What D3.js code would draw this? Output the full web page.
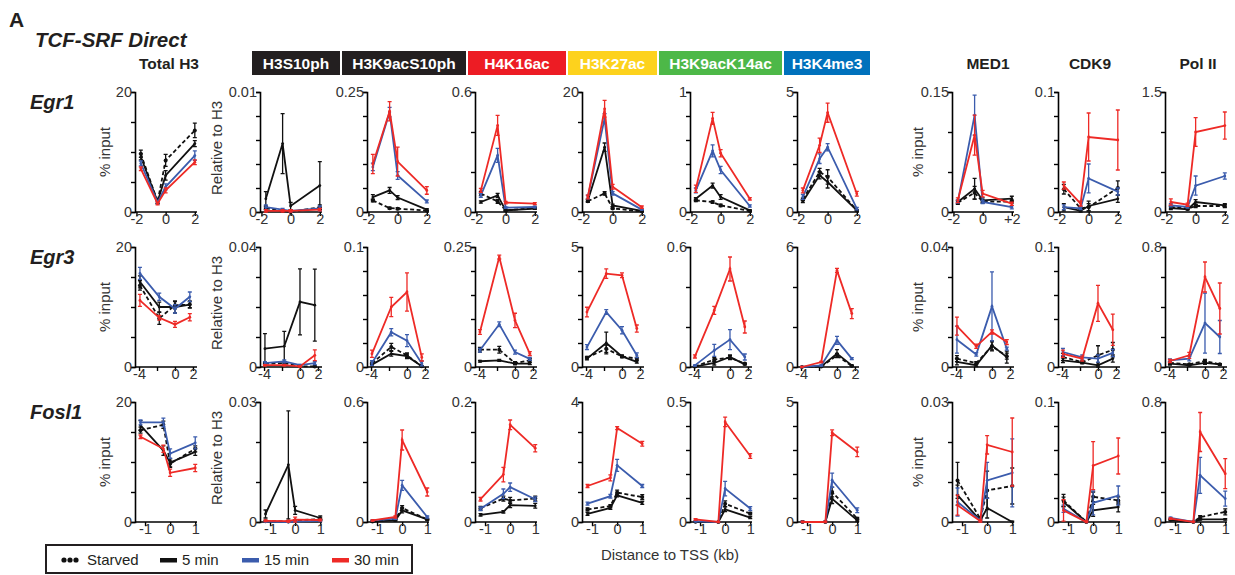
<!DOCTYPE html>
<html>
<head>
<meta charset="utf-8">
<script src="https://cdn.jsdelivr.net/npm/d3@7"></script>
<style>
body{margin:0;background:#fff;}
text{font-family:Arial,"Liberation Sans",sans-serif;}
</style>
</head>
<body>
<script>
// column headers and row labels
var genes = ['Egr1', 'Egr3', 'Fosl1'];
var headerBoxes = ['H3S10ph', 'H3K9acS10ph', 'H4K16ac', 'H3K27ac', 'H3K9acK14ac', 'H3K4me3'];
var headerBoxColors = ['#231f20', '#231f20', '#ed1c24', '#fdd21d', '#4db848', '#0071bc'];
var plainHeaders = ['Total H3', 'MED1', 'CDK9', 'Pol II'];
var seriesNames = ['Starved', '5 min', '15 min', '30 min'];
var seriesColors = ['#111', '#111', '#3b5cad', '#ee2a26'];

// x positions of the amplicons (kb from TSS) per gene, plus axis ticks
var xPos = [[-1.7, -0.55, 0, 2], [-3.9, -1.75, 0, 1.65], [-1.18, -0.27, 0, 1]];
var xDomains = [[-2.1, 2.15], [-4.45, 2.45], [-1.4, 1.07]];
var xTicks = [[-2, 0, 2], [-4, -2, 0, 2], [-1, 0, 1]];
var xTickLabels = [['-2', '0', '2'], ['-4', '', '0', '2'], ['-1', '0', '1']];

// y axis max per panel and number of tick intervals
var yMax = [
	[20, 0.01, 0.25, 0.6, 20, 1, 5, 0.15, 0.1, 1.5],
	[20, 0.04, 0.1, 0.25, 5, 0.6, 6, 0.04, 0.1, 0.8],
	[20, 0.03, 0.6, 0.2, 4, 0.5, 5, 0.03, 0.1, 0.8]
];
var yDiv = [
	[4, 5, 5, 3, 4, 5, 5, 3, 5, 3],
	[4, 4, 5, 5, 5, 3, 3, 4, 5, 4],
	[4, 3, 3, 4, 4, 5, 5, 3, 5, 4]
];

// ---- Egr1 ----
var egr1Starved = [[9.7,1.7,8.6,13.6],[0.0003,0.0001,0,0.0004],[0.024,0.008,0.007,0.003],[0.092,0.053,0.008,0.02],[1.8,3.1,0.6,0.1],[0.097,0.083,0.055,0.008],[0.53,1.67,1.46,0.07],[0.0117,0.024,0.013,0.013],[0.019,0.003,0.004,0.02],[0.063,0.042,0.075,0.075]];
var egr1Min5 = [[9.2,1.7,6.1,11.4],[0.0011,0.0057,0.0005,0.0022],[0.031,0.045,0.03,0.005],[0.05,0.083,0.008,0.017],[1.9,10.8,1.1,0.2],[0.11,0.22,0.125,0.014],[0.44,1.53,1.25,0.07],[0.0125,0.029,0.0146,0.0167],[0.004,0.001,0.005,0.011],[0.05,0.033,0.125,0.083]];
var egr1Min15 = [[8.1,1.6,4.2,9.4],[0.0004,0.0002,0.0001,0.0003],[0.094,0.208,0.076,0.022],[0.083,0.283,0.022,0.025],[2.5,15.6,3.1,0.4],[0.18,0.51,0.35,0.05],[0.63,2.22,2.7,0.14],[0.013,0.121,0.0125,0.006],[0.004,0.003,0.028,0.017],[0.083,0.063,0.33,0.45]];
var egr1Min30 = [[7.2,1.4,3.6,8.3],[0.0001,0.0001,0.0001,0.0002],[0.1,0.21,0.105,0.045],[0.108,0.433,0.047,0.042],[2.5,17.2,4.2,0.8],[0.194,0.78,0.49,0.11],[0.9,2.78,4.14,0.76],[0.0146,0.096,0.023,0.0104],[0.022,0.007,0.0625,0.06],[0.125,0.092,1.0,1.08]];
var egr1ErrStarved = [[0.6,0.3,1.0,1.2],[0.0001,0.0001,0.0001,0.0002],[0.003,0.002,0.002,0.001],[0.01,0.01,0.003,0.004],[0.2,0.3,0.1,0.05],[0.01,0.01,0.01,0.003],[0.05,0.15,0.3,0.03],[0.002,0.008,0.002,0.002],[0.004,0.001,0.003,0.006],[0.02,0.01,0.02,0.02]];
var egr1ErrMin5 = [[0.5,0.3,0.8,0.5],[0.0006,0.0025,0.0003,0.002],[0.005,0.006,0.004,0.002],[0.006,0.01,0.003,0.004],[0.2,0.7,0.2,0.1],[0.01,0.02,0.02,0.005],[0.05,0.15,0.25,0.03],[0.002,0.013,0.003,0.003],[0.003,0.001,0.004,0.003],[0.02,0.01,0.03,0.02]];
var egr1ErrMin15 = [[0.4,0.2,0.5,0.8],[0.0002,0.0001,0.0001,0.0002],[0.008,0.01,0.008,0.003],[0.01,0.035,0.004,0.004],[0.3,0.8,0.3,0.1],[0.02,0.05,0.03,0.01],[0.1,0.2,0.15,0.05],[0.002,0.025,0.002,0.002],[0.002,0.001,0.012,0.003],[0.02,0.015,0.12,0.04]];
var egr1ErrMin30 = [[0.3,0.2,0.4,0.4],[0.0001,0.0001,0.0001,0.0001],[0.02,0.02,0.03,0.008],[0.01,0.05,0.006,0.005],[0.3,1.4,0.4,0.2],[0.03,0.05,0.03,0.01],[0.1,0.3,0.4,0.1],[0.003,0.025,0.004,0.002],[0.003,0.002,0.02,0.025],[0.04,0.02,0.18,0.17]];

// ---- Egr3 ----
var egr3Starved = [[13.6,8.1,10.3,10.4],[0.0011,0.0013,0.0002,0.0002],[0.003,0.0167,0.0097,0.0006],[0.036,0.036,0.008,0.014],[0.39,0.76,0.44,0.35],[0.003,0.037,0.047,0.017],[0,0.02,0.58,0.05],[0.0028,0.0013,0.0069,0.0036],[0.0083,0.004,0.0097,0.0144],[0.027,0.018,0.04,0.018]];
var egr3Min5 = [[14.2,10,10,10.4],[0.0061,0.0069,0.0217,0.0206],[0.002,0.011,0.009,0.0006],[0.012,0.014,0.007,0.007],[0.35,1.0,0.44,0.21],[0.002,0.02,0.05,0.013],[0,0.03,0.67,0.08],[0.0017,0.0006,0.0072,0.0033],[0.0056,0.0036,0.0014,0.007],[0.022,0.011,0.027,0.018]];
var egr3Min15 = [[15.6,11.7,9.7,11.7],[0.0013,0.0019,0.0006,0.0013],[0.0033,0.029,0.022,0.003],[0.035,0.089,0.031,0.017],[0.83,2.29,1.53,0.49],[0.008,0.083,0.137,0.05],[0,0.08,1.33,0.42],[0.0091,0.0042,0.0202,0.0061],[0.0125,0.008,0.007,0.0117],[0.044,0.056,0.293,0.2]];
var egr3Min30 = [[11.1,8.2,7.1,8.3],[0.0006,0.0006,0.0002,0.0039],[0.011,0.05,0.0625,0.008],[0.073,0.229,0.097,0.028],[2.29,3.89,3.82,1.6],[0.053,0.283,0.49,0.2],[0,0.25,4.83,2.67],[0.0136,0.0069,0.0117,0.0083],[0.011,0.007,0.053,0.031],[0.04,0.078,0.6,0.39]];
var egr3ErrStarved = [[0.8,1.0,0.6,0.5],[0.0004,0.0004,0.0002,0.0002],[0.001,0.003,0.002,0.0005],[0.005,0.007,0.003,0.004],[0.05,0.15,0.05,0.05],[0.002,0.01,0.01,0.003],[0.01,0.01,0.1,0.02],[0.001,0.0005,0.0015,0.001],[0.003,0.001,0.008,0.006],[0.01,0.005,0.01,0.005]];
var egr3ErrMin5 = [[1.0,0.8,1.0,0.6],[0.005,0.005,0.011,0.012],[0.001,0.002,0.002,0.0005],[0.002,0.002,0.002,0.002],[0.05,0.45,0.05,0.05],[0.002,0.01,0.01,0.003],[0.01,0.01,0.2,0.02],[0.001,0.0005,0.0015,0.002],[0.002,0.001,0.002,0.003],[0.01,0.005,0.01,0.005]];
var egr3ErrMin15 = [[1.0,0.6,0.7,0.8],[0.0005,0.0005,0.0003,0.0005],[0.002,0.003,0.005,0.002],[0.004,0.005,0.004,0.003],[0.1,0.1,0.15,0.1],[0.003,0.03,0.05,0.015],[0.02,0.03,0.2,0.05],[0.0045,0.0006,0.0115,0.0005],[0.003,0.002,0.003,0.003],[0.01,0.015,0.2,0.11]];
var egr3ErrMin30 = [[1.0,0.4,0.5,0.6],[0.0002,0.0002,0.0002,0.0018],[0.003,0.008,0.016,0.003],[0.005,0.004,0.015,0.004],[0.2,0.2,0.1,0.15],[0.008,0.02,0.06,0.03],[0.02,0.03,0.1,0.25],[0.003,0.0007,0.0007,0.0008],[0.003,0.002,0.015,0.013],[0.01,0.02,0.1,0.17]];

// ---- Fosl1 ----
var fosl1Starved = [[15.3,16.2,9.7,12.2],[0.0002,0.0001,0.0004,0.0007],[0.003,0.013,0.07,0.013],[0.023,0.039,0.036,0.039],[0.42,0.53,0.98,0.83],[0.001,0,0.076,0.035],[0,0,1.25,0.14],[0.0104,0.0008,0.0079,0.009],[0.018,0,0.021,0.018],[0.018,0,0.033,0.067]];
var fosl1Min5 = [[16.1,11.9,9.9,11.7],[0.002,0.0143,0.0029,0.001],[0.002,0.008,0.058,0.013],[0.012,0.017,0.028,0.027],[0.27,0.47,0.89,0.64],[0.001,0,0.053,0.018],[0,0,0.97,0.07],[0.0067,0.0004,0.0035,0],[0.0167,0,0.0097,0.0125],[0.011,0,0.018,0.018]];
var fosl1Min15 = [[16.6,16.6,11.4,13.2],[0.0001,0,0.0001,0.0003],[0.008,0.017,0.183,0.025],[0.022,0.047,0.058,0.038],[0.61,0.86,1.89,1.2],[0.003,0,0.139,0.056],[0,0,1.74,0.49],[0.005,0.0004,0.0104,0.0123],[0.011,0,0.016,0.022],[0.027,0,0.311,0.156]];
var fosl1Min30 = [[14.2,12.2,8.2,9.0],[0.0003,0.0002,0.0006,0.0005],[0.008,0.025,0.41,0.15],[0.038,0.079,0.162,0.123],[1.2,1.47,3.13,2.61],[0.011,0,0.417,0.275],[0,0,3.72,2.92],[0.0042,0.0002,0.0193,0.0175],[0.0097,0,0.047,0.055],[0.022,0,0.6,0.322]];
var fosl1ErrStarved = [[0.5,0.6,0.6,0.5],[0.0002,0.0002,0.0002,0.0003],[0.002,0.003,0.012,0.003],[0.003,0.004,0.005,0.004],[0.05,0.05,0.08,0.08],[0.001,0.001,0.012,0.005],[0.02,0.02,0.2,0.05],[0.0045,0.0005,0.0048,0.0045],[0.005,0.001,0.004,0.003],[0.003,0.002,0.01,0.02]];
var fosl1ErrMin5 = [[0.8,0.8,0.7,0.6],[0.001,0.0135,0.001,0.0005],[0.002,0.003,0.012,0.003],[0.002,0.002,0.004,0.004],[0.05,0.05,0.05,0.05],[0.001,0.001,0.01,0.004],[0.02,0.02,0.2,0.05],[0.0025,0.0003,0.0025,0.0002],[0.004,0.001,0.005,0.004],[0.003,0.002,0.005,0.005]];
var fosl1ErrMin15 = [[0.4,0.7,0.8,1.0],[0.0001,0.0001,0.0001,0.0002],[0.003,0.004,0.025,0.005],[0.003,0.008,0.007,0.004],[0.05,0.06,0.2,0.05],[0.002,0.001,0.03,0.008],[0.02,0.02,0.3,0.1],[0.0035,0.0003,0.0045,0.0085],[0.003,0.001,0.01,0.008],[0.005,0.002,0.12,0.05]];
var fosl1ErrMin30 = [[0.3,0.6,0.6,0.6],[0.0002,0.0002,0.0006,0.0002],[0.003,0.006,0.05,0.02],[0.003,0.012,0.008,0.006],[0.05,0.1,0.05,0.08],[0.003,0.001,0.02,0.01],[0.02,0.02,0.12,0.2],[0.0025,0.0003,0.0023,0.0085],[0.009,0.001,0.02,0.015],[0.005,0.002,0.13,0.1]];

var rowValues = [
	[egr1Starved, egr1Min5, egr1Min15, egr1Min30],
	[egr3Starved, egr3Min5, egr3Min15, egr3Min30],
	[fosl1Starved, fosl1Min5, fosl1Min15, fosl1Min30]
];
var rowErrors = [
	[egr1ErrStarved, egr1ErrMin5, egr1ErrMin15, egr1ErrMin30],
	[egr3ErrStarved, egr3ErrMin5, egr3ErrMin15, egr3ErrMin30],
	[fosl1ErrStarved, fosl1ErrMin5, fosl1ErrMin15, fosl1ErrMin30]
];

// layout
var W = 1235, H = 575;
var panelLeft = [135, 260, 367, 475, 582, 690, 797, 952, 1058, 1165];
var rowTop = [92, 247, 402];
var plotW = 62, plotH = 120;
var tickCol = '#333';

var svg = d3.select('body').append('svg')
	.attr('width', W)
	.attr('height', H);

svg.append('text').attr('x', 9).attr('y', 27)
	.style('font-size', '21px').style('font-weight', 'bold').attr('fill', '#231f20').text('A');
svg.append('text').attr('x', 35).attr('y', 47)
	.style('font-size', '20.5px').style('font-weight', 'bold').style('font-style', 'italic')
	.attr('fill', '#231f20')
	.text('TCF-SRF Direct');

// header boxes
var boxX = [252, 342, 468, 568, 659, 784];
var boxR = [340, 466, 566, 657, 782, 870];
for(let i = 0; i < headerBoxes.length; i++){
	svg.append('rect')
		.attr('x', boxX[i]).attr('y', 51)
		.attr('width', boxR[i] - boxX[i]).attr('height', 24)
		.attr('fill', headerBoxColors[i]);
	svg.append('text')
		.attr('x', (boxX[i] + boxR[i]) / 2).attr('y', 68.5)
		.attr('text-anchor', 'middle')
		.attr('fill', '#fff')
		.style('font-size', '15.5px').style('font-weight', 'bold')
		.text(headerBoxes[i]);
}
var plainX = [169, 988, 1090, 1198];
for(let i = 0; i < plainHeaders.length; i++){
	svg.append('text')
		.attr('x', plainX[i]).attr('y', 69)
		.attr('text-anchor', 'middle')
		.attr('fill', '#231f20')
		.style('font-size', '15.5px').style('font-weight', 'bold')
		.text(plainHeaders[i]);
}

// gene labels
for(let r = 0; r < genes.length; r++){
	svg.append('text')
		.attr('x', 30).attr('y', rowTop[r] + 17)
		.style('font-size', '20px').style('font-weight', 'bold').style('font-style', 'italic')
		.attr('fill', '#231f20')
		.text(genes[r]);
}

function yLabel(x, yc, label){
	svg.append('text')
		.attr('transform', 'translate(' + x + ',' + yc + ') rotate(-90)')
		.attr('text-anchor', 'middle')
		.attr('dy', '0.35em')
		.attr('fill', tickCol)
		.style('font-size', '15px')
		.text(label);
}

function drawPanel(r, c){
	var x0 = panelLeft[c];
	var y0 = rowTop[r];
	var g = svg.append('g').attr('transform', 'translate(' + x0 + ',' + y0 + ')');

	var x = d3.scaleLinear().domain(xDomains[r]).range([0, plotW]);
	var y = d3.scaleLinear().domain([0, yMax[r][c]]).range([plotH, 0]);

	// y axis
	var yTickVals = d3.range(yDiv[r][c] + 1).map(function(i){ return yMax[r][c] * i / yDiv[r][c]; });
	var yAxis = d3.axisLeft(y).tickValues(yTickVals).tickSize(4)
		.tickFormat(function(d, i){
			if(i == 0) return '0';
			if(i == yDiv[r][c]) return String(yMax[r][c]);
			return '';
		});
	var ya = g.append('g').call(yAxis);
	ya.select('.domain').attr('stroke', '#000').attr('stroke-width', 1.6);
	ya.selectAll('.tick line').attr('stroke', '#000').attr('stroke-width', 1.4);
	ya.selectAll('.tick text').attr('fill', tickCol).style('font-size', '14.5px')
		.attr('font-family', 'Arial, "Liberation Sans", sans-serif').attr('x', -3);

	// x axis
	var labs = xTickLabels[r].slice();
	if(r == 0 && c == 7) labs[2] = '+2';
	var xAxis = d3.axisBottom(x).tickValues(xTicks[r]).tickSize(4)
		.tickFormat(function(d, i){ return labs[i]; });
	var xa = g.append('g').attr('transform', 'translate(0,' + plotH + ')').call(xAxis);
	xa.select('.domain').attr('stroke', '#000').attr('stroke-width', 1.6)
		.attr('d', 'M0,0H' + plotW);
	xa.selectAll('.tick line').attr('stroke', '#000').attr('stroke-width', 1.4);
	xa.selectAll('.tick text').attr('fill', tickCol).style('font-size', '14.5px')
		.attr('font-family', 'Arial, "Liberation Sans", sans-serif').attr('y', 1.5).attr('dy', '0.71em');

	var line = d3.line()
		.x(function(d){ return x(d.x); })
		.y(function(d){ return y(d.v); });

	for(let s = 0; s < 4; s++){
		var vals = rowValues[r][s][c];
		var errs = rowErrors[r][s][c];
		var pts = vals.map(function(v, i){ return {x: xPos[r][i], v: v, e: errs[i]}; });
		var col = seriesColors[s];
		var sg = g.append('g');

		sg.append('path')
			.datum(pts)
			.attr('d', line)
			.attr('fill', 'none')
			.attr('stroke', col)
			.attr('stroke-width', 1.8)
			.attr('stroke-dasharray', s == 0 ? '4,2.5' : null);

		// error bars
		sg.selectAll('.err').data(pts).enter().append('path')
			.attr('d', function(d){
				var xx = x(d.x), lo = y(Math.max(0, d.v - d.e)), hi = y(d.v + d.e);
				return 'M' + xx + ',' + lo + 'V' + hi +
					'M' + (xx - 2) + ',' + hi + 'H' + (xx + 2) +
					'M' + (xx - 2) + ',' + lo + 'H' + (xx + 2);
			})
			.attr('fill', 'none')
			.attr('stroke', col)
			.attr('stroke-width', 1.3);

		sg.selectAll('.pt').data(pts).enter().append('circle')
			.attr('cx', function(d){ return x(d.x); })
			.attr('cy', function(d){ return y(d.v); })
			.attr('r', s == 0 ? 2 : 1.4)
			.attr('fill', col);
	}
}

for(let r = 0; r < 3; r++){
	for(let c = 0; c < 10; c++){
		drawPanel(r, c);
	}
	var yc = rowTop[r] + plotH / 2;
	yLabel(105, yc, '% input');
	yLabel(217, yc - 4, 'Relative to H3');
	yLabel(918, yc, '% input');
}

svg.append('text')
	.attr('x', 670).attr('y', 560)
	.attr('text-anchor', 'middle')
	.attr('fill', tickCol)
	.style('font-size', '15px')
	.text('Distance to TSS (kb)');

// legend
var lg = svg.append('g');
lg.append('rect')
	.attr('x', 46).attr('y', 545).attr('width', 366).attr('height', 28)
	.attr('fill', 'none').attr('stroke', '#231f20').attr('stroke-width', 2);
var legX = [62, 160, 242, 332];
for(let s = 0; s < 4; s++){
	if(s == 0){
		[0, 6, 12].forEach(function(dx){
			lg.append('circle').attr('cx', legX[s] + 2 + dx).attr('cy', 560).attr('r', 2.6).attr('fill', '#111');
		});
		lg.append('text').attr('x', 87).attr('y', 565)
			.style('font-size', '15px').attr('fill', '#231f20').text(seriesNames[s]);
	}else{
		lg.append('rect').attr('x', legX[s]).attr('y', 558).attr('width', 17).attr('height', 4.5)
			.attr('fill', seriesColors[s]);
		lg.append('text').attr('x', legX[s] + 22).attr('y', 565)
			.style('font-size', '15px').attr('fill', '#231f20').text(seriesNames[s]);
	}
}
</script>
</body>
</html>
